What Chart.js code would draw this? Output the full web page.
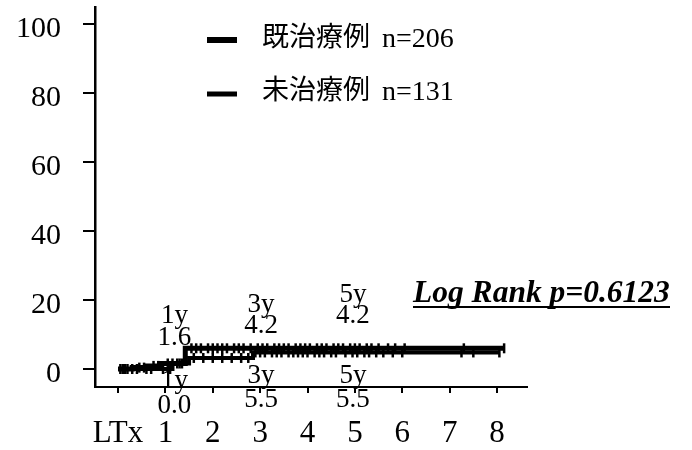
<!DOCTYPE html>
<html lang="ja">
<head>
<meta charset="UTF-8">
<title>累積発生率</title>
<script src="https://cdn.jsdelivr.net/npm/chart.js"></script>
<style>
  html, body { margin: 0; padding: 0; background: #fff; }
  #wrap { width: 692px; height: 450px; }
</style>
</head>
<body>
<div id="wrap"><canvas id="kmChart" width="692" height="450"></canvas></div>
<script>
// x axis: years after LTx, y axis: cumulative rate (%)
const xTicks = [0, 1, 2, 3, 4, 5, 6, 7, 8];
const xTickLabels = ['LTx', '1', '2', '3', '4', '5', '6', '7', '8'];
const yTicks = [0, 20, 40, 60, 80, 100];

const groupNames = ['既治療例', '未治療例'];
const groupN = ['n=206', 'n=131'];

// 既治療例: step times / values (%)
const timesA = [0, 0.3, 0.6, 0.9, 1.42, 8.15];
const valsA = [0, 0.4, 0.9, 1.6, 6.0, 6.0];
const censorA = [0.1, 0.2, 0.45, 0.55, 0.75, 0.85, 1.05, 1.15, 1.3,
  1.55, 1.65, 1.75, 1.9, 2.0, 2.1, 2.2, 2.3, 2.45, 2.55, 2.65, 2.8, 2.95, 3.05,
  3.15, 3.3, 3.4, 3.5, 3.6, 3.75, 3.85, 3.95, 4.05, 4.2, 4.3, 4.4, 4.55, 4.65,
  4.75, 4.9, 5.0, 5.1, 5.25, 5.35, 5.5, 5.7, 5.85, 6.05, 7.3, 8.15];

// 未治療例
const timesB = [0, 1.15, 1.5, 2.85, 8.05];
const valsB = [0, 1.6, 3.2, 4.8, 4.8];
const censorB = [0.05, 0.15, 0.3, 0.4, 0.6, 0.7, 0.95, 1.1, 1.25, 1.35,
  1.6, 1.8, 2.0, 2.2, 2.4, 2.6, 2.75, 2.9, 3.0, 3.1, 3.25, 3.35, 3.45, 3.6,
  3.7, 3.8, 3.9, 4.0, 4.15, 4.25, 4.35, 4.5, 4.6, 4.8, 4.95, 5.05, 5.2, 5.3,
  5.45, 5.6, 5.8, 6.0, 7.25, 7.5, 8.05];

// rates shown beside the curves
const noteYears = ['1y', '3y', '5y'];
const notesUpper = ['1.6', '4.2', '4.2'];
const notesLower = ['0.0', '5.5', '5.5'];

const SERIF = '"Liberation Serif", "Times New Roman", serif';
const CJK = '"Noto Sans CJK JP", sans-serif';

function stepAt(times, vals, t) {
  let v = vals[0];
  for (let i = 0; i < times.length; i++) {
    if (times[i] <= t) v = vals[i];
  }
  return v;
}

function toPoints(xs, ys) {
  return xs.map((x, i) => ({ x: x, y: ys[i] }));
}

function censorPoints(cs, times, vals) {
  return cs.map(t => ({ x: t, y: stepAt(times, vals, t) }));
}

// where the notes go: [x in years, y of year label, y of value] (axis units)
const upperPos = [[1.19, 13.3, 7.0], [3.02, 16.5, 10.4], [4.96, 19.4, 13.3]];
const lowerPos = [[1.19, -5.5, -12.8], [3.02, -4.1, -11.0], [4.96, -4.1, -11.0]];

const notesPlugin = {
  id: 'notes',
  afterDraw(chart) {
    const ctx = chart.ctx;
    const xs = chart.scales.x, ys = chart.scales.y;
    ctx.save();
    ctx.fillStyle = '#000';
    ctx.textAlign = 'center';
    ctx.textBaseline = 'alphabetic';
    ctx.font = '27px ' + SERIF;
    noteYears.forEach((yr, i) => {
      let p = upperPos[i];
      let px = xs.getPixelForValue(p[0]);
      ctx.fillText(yr, px, ys.getPixelForValue(p[1]));
      ctx.fillText(notesUpper[i], px, ys.getPixelForValue(p[2]));
      p = lowerPos[i];
      px = xs.getPixelForValue(p[0]);
      ctx.fillText(yr, px, ys.getPixelForValue(p[1]));
      ctx.fillText(notesLower[i], px, ys.getPixelForValue(p[2]));
    });

    // log rank text, bold italic underlined
    const lr = 'Log Rank p=0.6123';
    const targetW = 257;
    ctx.font = 'italic bold 28px ' + SERIF;
    const fs = 28 * targetW / ctx.measureText(lr).width;
    ctx.font = 'italic bold ' + fs.toFixed(1) + 'px ' + SERIF;
    ctx.textAlign = 'left';
    ctx.fillText(lr, 413, 302);
    ctx.fillRect(413, 306, targetW, 2);

    // legend
    const rows = [{ y: 40, lw: 6, base: 47 }, { y: 94, lw: 5, base: 100 }];
    rows.forEach((r, i) => {
      ctx.fillRect(207, r.y - r.lw / 2, 30, r.lw);
      ctx.font = '27px ' + CJK;
      ctx.fillText(groupNames[i], 262, r.base - 1);
      ctx.font = '28px ' + SERIF;
      ctx.fillText(groupN[i], 382, r.base);
    });
    ctx.restore();
  }
};

new Chart(document.getElementById('kmChart'), {
  type: 'line',
  data: {
    datasets: [
      {
        label: groupNames[0],
        data: toPoints(timesA, valsA),
        borderColor: '#000',
        borderWidth: 5,
        stepped: 'before',
        pointRadius: 0
      },
      {
        label: groupNames[1],
        data: toPoints(timesB, valsB),
        borderColor: '#000',
        borderWidth: 4,
        stepped: 'before',
        pointRadius: 0
      },
      {
        label: 'censor A',
        data: censorPoints(censorA, timesA, valsA),
        showLine: false,
        pointStyle: 'line',
        rotation: 90,
        pointRadius: 5,
        borderColor: '#000',
        borderWidth: 2.5
      },
      {
        label: 'censor B',
        data: censorPoints(censorB, timesB, valsB),
        showLine: false,
        pointStyle: 'line',
        rotation: 90,
        pointRadius: 5,
        borderColor: '#000',
        borderWidth: 2.5
      }
    ]
  },
  options: {
    responsive: false,
    animation: false,
    layout: {
      autoPadding: false,
      padding: { top: 7, right: 165, bottom: 0, left: 0 }
    },
    plugins: {
      legend: { display: false },
      tooltip: { enabled: false }
    },
    scales: {
      x: {
        type: 'linear',
        min: -0.4855,
        max: 8.633,
        afterBuildTicks: s => { s.ticks = xTicks.map(v => ({ value: v })); },
        afterFit: s => {
          s.height = 63;
          s.paddingLeft = 0; s.paddingRight = 0;
        },
        border: { color: '#000', width: 2 },
        grid: { drawOnChartArea: false, drawTicks: true, tickLength: 6, color: '#000', lineWidth: 2 },
        ticks: {
          color: '#000',
          padding: 22,
          maxRotation: 0,
          font: { family: SERIF, size: 31 },
          callback: (v) => xTickLabels[xTicks.indexOf(v)]
        }
      },
      y: {
        min: -5.217,
        max: 104.93,
        afterBuildTicks: s => { s.ticks = yTicks.map(v => ({ value: v })); },
        afterFit: s => {
          s.width = 95;
          s.paddingTop = 0; s.paddingBottom = 0;
        },
        border: { color: '#000', width: 2.5 },
        grid: { drawOnChartArea: false, drawTicks: true, tickLength: 12, color: '#000', lineWidth: 2 },
        ticks: {
          color: '#000',
          padding: 22,
          labelOffset: 5,
          font: { family: SERIF, size: 30 }
        }
      }
    }
  },
  plugins: [notesPlugin]
});
</script>
</body>
</html>
